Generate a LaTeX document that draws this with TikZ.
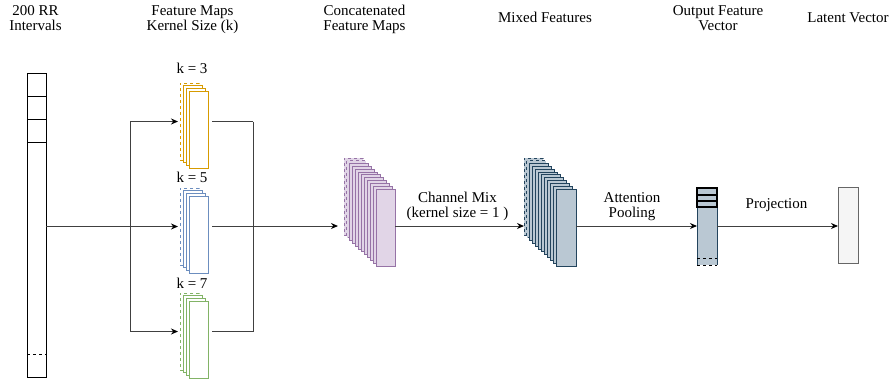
\documentclass[tikz,border=0pt]{standalone}
\usepackage{fontspec}
\setmainfont{Liberation Serif}
\usetikzlibrary{arrows.meta,calc}
\definecolor{korange}{HTML}{D79B00}
\definecolor{kblue}{HTML}{6C8EBF}
\definecolor{kgreen}{HTML}{82B366}
\definecolor{pfill}{HTML}{E1D5E7}
\definecolor{pdraw}{HTML}{9673A6}
\definecolor{bfill}{HTML}{BAC8D3}
\definecolor{bdraw}{HTML}{23445D}
\definecolor{lfill}{HTML}{F5F5F5}
\definecolor{ldraw}{HTML}{666666}
\begin{document}
\begin{tikzpicture}[x=1pt,y=-1pt,line width=1pt,
  every node/.style={font=\fontsize{15pt}{14.3pt}\selectfont, inner sep=0pt, outer sep=0pt},
  lbl/.style={align=center, anchor=base},
  blk/.style={draw, anchor=north west, minimum width=19pt, minimum height=#1},
  wire/.style={draw=black!75},
  arr/.style={-{Stealth[length=7pt,width=6pt,color=black]}}]
\useasboundingbox (0,0) rectangle (891,381);
% titles (base = baseline of the last line)
\node[lbl] (t1) at (35.5,30) {200 RR\\Intervals};
\node[lbl] (t2) at (192.5,30) {Feature Maps\\Kernel Size (k)};
\node[lbl] (t3) at (364.5,30) {Concatenated\\Feature Maps};
\node[lbl] (t4) at (545,22.7) {Mixed Features};
\node[lbl] (t5) at (718,30) {Output Feature\\Vector};
\node[lbl] (t6) at (848,22.7) {Latent Vector};
% input column
\node[blk=23pt] (in1) at (27,73) {};
\node[blk=23pt] (in2) at (27,96) {};
\node[blk=23pt] (in3) at (27,119) {};
\node[blk=235pt] (in4) at (27,142) {};
\draw[dashed] (27,354) -- (46,354);
% kernel stacks
\foreach \nm/\col/\yy/\ly/\txt in {k3/korange/83/73/3, k5/kblue/188/182/5, k7/kgreen/293/288/7}{
  \node[blk=77pt, dashed, draw=\col, fill=white] (\nm b) at (180,\yy) {};
  \foreach \i in {1,2}
    \draw[\col, fill=white] ({180+3*\i},{\yy+2.67*\i}) rectangle +(19,77);
  \node[blk=77pt, draw=\col, fill=white] (\nm) at (189,{\yy+8}) {};
  \node[lbl] (\nm l) at (192,\ly) {k = \txt};
}
% concatenated maps
\node[blk=77pt, dashed, draw=pdraw, fill=pfill] (cb) at (344,158) {};
\draw[pdraw, fill=pfill, dashed] ({344+2.909},{158+2.818}) rectangle +(19,77);
\foreach \i in {2,...,10}
  \draw[pdraw, fill=pfill] ({344+2.909*\i},{158+2.818*\i}) rectangle +(19,77);
\node[blk=77pt, draw=pdraw, fill=pfill] (cf) at (376,189) {};
% mixed features
\node[blk=77pt, dashed, draw=bdraw, fill=bfill] (mb) at (524,158) {};
\draw[bdraw, fill=bfill, dashed] ({524+2.909},{158+2.818}) rectangle +(19,77);
\foreach \i in {2,...,10}
  \draw[bdraw, fill=bfill] ({524+2.909*\i},{158+2.818*\i}) rectangle +(19,77);
\node[blk=77pt, minimum width=20pt, draw=bdraw, fill=bfill] (mf) at (556,189) {};
% output feature vector
\node[blk=77pt, minimum width=20pt, draw=none, fill=bfill] (ov) at (697,188) {};
\draw[bdraw] (ov.north west) -- (ov.south west);
\draw[bdraw] (ov.north east) -- (ov.south east);
\draw[black, dashed] (ov.south west) -- (ov.south east);
\draw[black, dashed] (697,258) -- (717,258);
\draw[black, line width=1.3pt] (697,188) rectangle (717,195);
\draw[black, line width=1.3pt] (697,195) rectangle (717,201);
\draw[black, line width=1.3pt] (697,201) rectangle (717,207);
% latent vector
\node[blk=76pt, minimum width=20pt, draw=ldraw, fill=lfill] (lv) at (838,187) {};
% connectors
\coordinate (jL) at (130,226);
\coordinate (jR) at (253,226);
\draw[wire] (jL -| in4.east) -- (jL);
\draw[wire] (jL |- k3b.west) -- (jL |- k7b.west);
\foreach \n in {k3b,k5b,k7b}
  \draw[wire,arr,shorten >=2pt] (jL |- \n.west) -- (\n.west);
\foreach \n in {k3,k5,k7}
  \draw[wire] ($(\n.east |- \n b.west)+(4,0)$) -- (jR |- \n b.west);
\draw[wire] (jR |- k3b.west) -- (jR |- k7b.west);
\draw[wire,arr,shorten >=6pt] (jR) -- (jR -| cb.west);
\draw[wire,arr] (cf.east |- jR) -- (mb.west |- jR);
\draw[wire,arr] (mf.east |- jR) -- (ov.west |- jR);
\draw[wire,arr] (ov.east |- jR) -- (lv.west |- jR);
% edge labels
\node[lbl] (cm) at (457.5,217) {Channel Mix\\(kernel size = 1 )};
\node[lbl] (ap) at (632,217) {Attention\\Pooling};
\node[lbl] (pj) at (776.5,208.5) {Projection};
\end{tikzpicture}
\end{document}
